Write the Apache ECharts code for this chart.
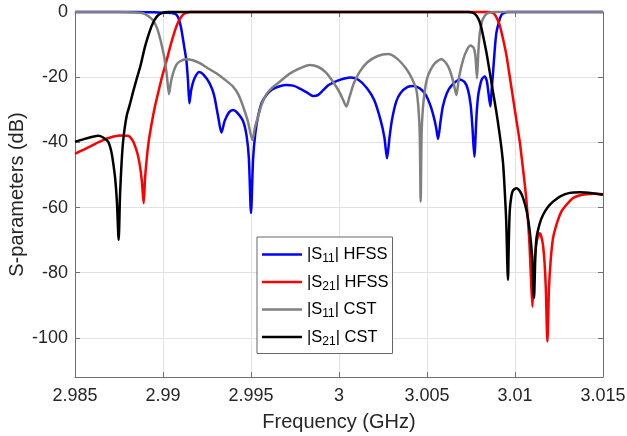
<!DOCTYPE html>
<html>
<head>
<meta charset="utf-8">
<script src="https://cdn.jsdelivr.net/npm/echarts@6/dist/echarts.min.js"></script>
<style>html,body{margin:0;padding:0;background:#fff}#c{width:627px;height:436px}</style>
</head>
<body>
<div id="c"></div>
<script>
// Frequency in GHz, magnitude in dB
const seriesNames = ['|S11| HFSS', '|S21| HFSS', '|S11| CST', '|S21| CST'];
const xTicks = { min: 2.985, max: 3.015, step: 0.005 };
const yTicks = { min: -112, max: 0, splits: 5 };

const s11Hfss = [
  [2.985,0],[2.988,0],[2.9890,-0.05],[2.9895,-0.1],[2.9900,-0.2],[2.9905,-0.3],[2.99076,-0.8],
  [2.99092,-2.5],[2.99105,-5.5],[2.9912,-10.5],[2.99133,-15],[2.99142,-21],[2.9915,-28],
  [2.9916,-24],[2.99178,-20.5],[2.99205,-18.4],[2.9923,-19.2],[2.99265,-21.9],[2.9929,-25.5],
  [2.99313,-32],[2.99332,-37],[2.9935,-33.5],[2.99375,-30.8],[2.99398,-30.1],[2.9942,-30.8],
  [2.99455,-33.5],[2.99475,-38],[2.99488,-45],[2.995,-61.7],[2.99512,-45],[2.99525,-37],
  [2.9954,-32.1],[2.9956,-28],[2.99588,-25.5],[2.9962,-23.8],[2.99663,-22.8],[2.997,-22.4],
  [2.99739,-22.6],[2.99775,-23.4],[2.99815,-24.6],[2.99855,-25.8],[2.9988,-25.5],[2.9991,-24],
  [2.99941,-22.4],[3.0000,-20.9],[3.00064,-20.1],[3.0011,-20.8],[3.00159,-23.4],[3.002,-27],
  [3.00236,-33.1],[3.00258,-38.5],[3.00273,-44.9],[3.00287,-38.5],[3.00301,-33.1],[3.00325,-27.5],
  [3.00349,-24.9],[3.0039,-23],[3.00424,-22.7],[3.0046,-23.5],[3.00491,-25.3],[3.00518,-28.5],
  [3.00538,-32.1],[3.00552,-35.5],[3.00563,-39],[3.00577,-33.5],[3.0059,-29],[3.00612,-25],
  [3.00639,-22.6],[3.00686,-20.7],[3.00715,-21.6],[3.00733,-23.9],[3.00748,-28.5],[3.00758,-35.2],
  [3.00769,-44.4],[3.00781,-32.1],[3.0079,-26],[3.008,-22.9],[3.00813,-20.5],[3.00828,-19.8],
  [3.0084,-21.2],[3.00847,-23.9],[3.0086,-29],[3.00868,-23.5],[3.00875,-18.8],[3.00885,-11.5],
  [3.00894,-6.5],[3.0091,-2.8],[3.00923,-0.9],[3.0094,-0.3],[3.0096,0],[3.015,0]
];

const s21Hfss = [
  [2.985,-43.5],[2.9855,-42.2],[2.98584,-41.3],[2.9862,-40.3],[2.98659,-39.3],[2.987,-38.5],
  [2.98754,-37.9],[2.98801,-38],[2.98822,-39],[2.98839,-40.8],[2.98855,-43.5],[2.98868,-46.9],
  [2.9888,-52],[2.9889,-58.7],[2.98898,-51],[2.98906,-45.9],[2.98918,-40],[2.98934,-34.7],
  [2.98952,-29.5],[2.98972,-24.9],[2.98995,-19.8],[2.99019,-15.2],[2.99042,-10.4],[2.99066,-6],
  [2.99085,-3.2],[2.99105,-1.4],[2.99125,-0.4],[2.99142,-0.1],[2.9916,0],[3.0085,0],
  [3.00875,-0.3],[3.0089,-1.2],[3.00913,-4],[3.00932,-8.3],[3.00951,-13.2],[3.0097,-19.8],
  [3.00989,-26.5],[3.01008,-33.2],[3.01027,-39.8],[3.01042,-46.5],[3.01056,-53.1],[3.01066,-58.5],
  [3.01074,-64.3],[3.01082,-71],[3.01089,-79.6],[3.01099,-90.4],[3.01105,-82],[3.01112,-75.5],
  [3.01125,-70],[3.0114,-67.9],[3.0115,-69],[3.01159,-71.5],[3.01168,-77],[3.01175,-84.7],
  [3.01184,-101.1],[3.01193,-84.7],[3.01203,-76],[3.01216,-69.4],[3.0124,-64.5],[3.01264,-61.2],
  [3.01295,-59],[3.0133,-57.1],[3.01365,-56.3],[3.01406,-55.9],[3.0145,-55.8],[3.015,-55.9]
];

const s11Cst = [
  [2.985,0],[2.9875,0],[2.9884,-0.15],[2.98886,-0.4],[2.98915,-1.2],[2.98943,-2.5],[2.98965,-4.8],
  [2.98981,-7.6],[2.98996,-11],[2.9901,-14.7],[2.99022,-19.5],[2.99034,-25.2],[2.99045,-21.5],
  [2.99057,-18.8],[2.99075,-16.3],[2.99095,-15.2],[2.99133,-14.5],[2.9917,-14.8],[2.99209,-15.7],
  [2.9925,-17.1],[2.99303,-18.8],[2.9935,-20.7],[2.99398,-22.9],[2.9943,-25.5],[2.99455,-29],
  [2.99482,-33.5],[2.99508,-39.3],[2.99522,-35.5],[2.9954,-32.1],[2.9956,-28.5],[2.99588,-25.2],
  [2.99625,-23],[2.99663,-21.4],[2.997,-19.7],[2.99739,-18.3],[2.9979,-17],[2.99834,-16.3],
  [2.9988,-16.8],[2.99925,-18.5],[2.99966,-21.4],[3.00005,-24.8],[3.00025,-27.2],[3.00042,-29],
  [3.0006,-26],[3.00085,-21.8],[3.00118,-18.3],[3.0016,-15.5],[3.0022,-13.5],[3.00278,-12.9],
  [3.0033,-14.3],[3.00383,-17.5],[3.00415,-20.5],[3.0044,-24],[3.00452,-30],[3.00459,-38],
  [3.00464,-58.2],[3.00469,-38],[3.00476,-30],[3.00488,-24],[3.005,-20.5],[3.00518,-18],
  [3.00544,-15.8],[3.00582,-14.5],[3.0061,-15.8],[3.00629,-17.8],[3.0065,-21.5],[3.00667,-25.5],
  [3.00682,-20],[3.00705,-14.7],[3.00728,-11.5],[3.00748,-10.3],[3.00765,-11],[3.00775,-13.5],
  [3.00784,-20.3],[3.00792,-12],[3.008,-6.5],[3.00812,-3],[3.00825,-1.4],[3.0084,-0.5],
  [3.00856,-0.2],[3.0088,0],[3.015,0]
];

const s21Cst = [
  [2.985,-39.8],[2.9855,-39],[2.9860,-38.3],[2.98631,-38],[2.9866,-38.5],[2.98688,-39.8],
  [2.98705,-42.5],[2.98716,-45.9],[2.98728,-51],[2.98738,-58],[2.98748,-69.9],[2.98756,-56],
  [2.98764,-46.9],[2.98772,-40.5],[2.98782,-35.7],[2.98795,-31.5],[2.98811,-28.5],[2.9883,-24.5],
  [2.98849,-20.8],[2.98872,-16.5],[2.98896,-11],[2.98915,-7.5],[2.98934,-4.5],[2.98952,-2.4],
  [2.98972,-1.0],[2.9899,-0.4],[2.9901,-0.1],[2.9903,0],[3.0073,0],[3.0075,-0.05],[3.0077,-0.5],
  [3.0079,-1.9],[3.00805,-4],[3.00818,-7.1],[3.00838,-12.5],[3.00856,-18.3],[3.00875,-24.5],
  [3.00894,-30.6],[3.0091,-36.5],[3.00923,-41.8],[3.00933,-47],[3.00942,-55.1],[3.0095,-64],
  [3.0096,-82.2],[3.00965,-70],[3.0097,-61.2],[3.00978,-57],[3.00988,-54.8],[3.01008,-54.1],
  [3.01028,-55],[3.01046,-57.1],[3.01066,-61],[3.01084,-67.4],[3.01097,-75],[3.01108,-87.8],
  [3.01115,-76],[3.01122,-69.4],[3.0114,-65],[3.01159,-62.3],[3.01185,-60],[3.01216,-58.2],
  [3.0126,-56.5],[3.01311,-55.5],[3.0137,-55.3],[3.0144,-55.6],[3.015,-56.1]
];

const seriesData = [s11Hfss, s21Hfss, s11Cst, s21Cst];
const seriesColors = ['#0000ff', '#ff0000', '#808080', '#000000'];

const FONT = 'Liberation Sans';
const AX = '#707070';
const TXT = '#262626';

function xAxisCfg(pos, primary) {
  return {
    type: 'value', position: pos, min: xTicks.min, max: xTicks.max, interval: xTicks.step,
    axisLine: { show: true, onZero: false, lineStyle: { color: AX, width: 1 } },
    axisTick: { show: true, inside: true, length: 5, lineStyle: { color: AX } },
    axisLabel: { show: primary, fontSize: 18, color: TXT, fontFamily: FONT, margin: 10 },
    splitLine: { show: primary, lineStyle: { color: '#e2e2e2', width: 1 } },
    name: primary ? 'Frequency (GHz)' : '', nameLocation: 'middle', nameGap: 35, nameMoveOverlap: false,
    nameTextStyle: { fontSize: 20, color: TXT, fontFamily: FONT }
  };
}
function yAxisCfg(pos, primary) {
  return {
    type: 'value', position: pos, min: yTicks.min, max: yTicks.max, splitNumber: yTicks.splits,
    axisLine: { show: true, onZero: false, lineStyle: { color: AX, width: 1 } },
    axisTick: { show: true, inside: true, length: 5, lineStyle: { color: AX } },
    axisLabel: { show: primary, showMinLabel: false, fontSize: 18, color: TXT, fontFamily: FONT, margin: 7 },
    splitLine: { show: primary, lineStyle: { color: '#e2e2e2', width: 1 } },
    name: primary ? 'S-parameters (dB)' : '', nameLocation: 'middle', nameGap: 48, nameMoveOverlap: false,
    nameTextStyle: { fontSize: 20, color: TXT, fontFamily: FONT }
  };
}

const chart = echarts.init(document.getElementById('c'), null, { renderer: 'canvas' });
chart.setOption({
  animation: false,
  backgroundColor: '#ffffff',
  grid: { left: 75, right: 24, top: 12, bottom: 59, containLabel: false, outerBoundsMode: 'none' },
  xAxis: [xAxisCfg('bottom', true), xAxisCfg('top', false)],
  yAxis: [yAxisCfg('left', true), yAxisCfg('right', false)],
  legend: {
    orient: 'vertical', left: 257, top: 237,
    padding: [7, 4, 6, 5], itemGap: 6.5, itemWidth: 40, itemHeight: 2.5,
    icon: 'rect',
    backgroundColor: '#ffffff', borderColor: '#666666', borderWidth: 1, borderRadius: 0,
    data: seriesNames,
    formatter: function (n) { return n.replace(/S(\d\d)/, 'S{sub|$1}'); },
    textStyle: {
      fontSize: 16.5, color: '#000', fontFamily: FONT, lineHeight: 20,
      rich: { sub: { fontSize: 12, fontFamily: FONT, color: '#000', lineHeight: 20, padding: [9, 0, 0, 0] } }
    }
  },
  series: seriesNames.map(function (name, i) {
    return {
      name: name, type: 'line', data: seriesData[i], xAxisIndex: 0, yAxisIndex: 0,
      showSymbol: false, smooth: 0.25, clip: false,
      lineStyle: { color: seriesColors[i], width: 2.5 },
      itemStyle: { color: seriesColors[i] }
    };
  })
});
</script>
</body>
</html>
